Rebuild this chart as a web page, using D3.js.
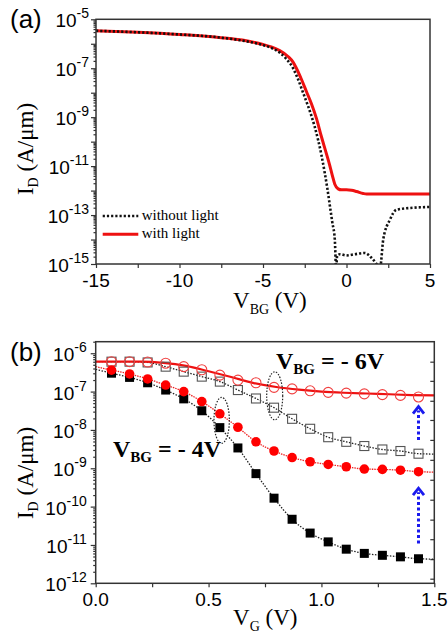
<!DOCTYPE html>
<html>
<head>
<meta charset="utf-8">
<script src="https://cdn.jsdelivr.net/npm/d3@7"></script>
<style>
	body { margin: 0; background: #fff; }
	.axis path { display: none; }
	.axis line { stroke: #333; stroke-width: 1.2; }
</style>
</head>
<body>
<div id="chart-area"></div>
<script>
// (a) I_D vs V_BG, values are log10(I_D)
const vbgDark = [-15, -12.5, -10, -7.5, -6, -5, -4.5, -4, -3.6, -3.2, -2.9, -2.6, -2.3, -2.1, -1.9, -1.7, -1.5, -1.3, -1.15, -1.0, -0.85, -0.7, -0.62, -0.56, -0.4, 0, 0.5, 1.1, 1.5, 1.8, 2.0, 2.2, 2.6, 3.0, 4, 5];
const logDark = [-5.47, -5.53, -5.62, -5.75, -5.9, -6.05, -6.17, -6.36, -6.62, -7.0, -7.45, -8.0, -8.55, -8.95, -9.4, -9.93, -10.55, -11.29, -11.9, -12.6, -13.3, -14.0, -15.2, -14.65, -14.6, -14.65, -14.6, -14.55, -14.75, -15.0, -15.2, -14.0, -13.19, -12.78, -12.7, -12.67];
const vbgLight = [-15, -12.5, -10, -7.5, -6, -5, -4.5, -4, -3.5, -3.2, -3, -2.7, -2.4, -2.1, -1.8, -1.5, -1.2, -1.0, -0.85, -0.7, -0.5, -0.3, 0, 0.3, 0.6, 1.0, 1.2, 5];
const logLight = [-5.47, -5.53, -5.62, -5.75, -5.88, -6.03, -6.13, -6.28, -6.52, -6.75, -7.0, -7.45, -7.95, -8.45, -9.05, -9.8, -10.5, -10.98, -11.38, -11.74, -11.93, -11.97, -11.97, -11.99, -12.04, -12.12, -12.14, -12.14];

// (b) I_D vs V_G, log10(I_D)
const vg = [0.07, 0.15, 0.23, 0.31, 0.39, 0.47, 0.55, 0.63, 0.71, 0.79, 0.87, 0.95, 1.03, 1.11, 1.19, 1.27, 1.35, 1.43];
const logOpenCircle = [-6.22, -6.22, -6.23, -6.26, -6.35, -6.43, -6.57, -6.70, -6.77, -6.89, -6.93, -6.98, -7.02, -7.04, -7.06, -7.08, -7.10, -7.14];
const logOpenSquare = [-6.22, -6.22, -6.24, -6.35, -6.48, -6.61, -6.74, -6.96, -7.18, -7.42, -7.71, -7.97, -8.19, -8.31, -8.42, -8.51, -8.55, -8.62];
const logFullCircle = [-6.44, -6.54, -6.67, -6.83, -7.0, -7.26, -7.58, -7.93, -8.31, -8.55, -8.72, -8.83, -8.90, -8.96, -9.02, -9.03, -9.05, -9.09];
const logFullSquare = [-6.52, -6.63, -6.77, -6.96, -7.19, -7.50, -7.94, -8.47, -9.14, -9.78, -10.33, -10.69, -10.92, -11.11, -11.22, -11.27, -11.31, -11.36];
// red solid guide line for VBG = -6V with light
const vgFit = [0, 0.1, 0.2, 0.3, 0.4, 0.5, 0.6, 0.7, 0.8, 0.9, 1.0, 1.1, 1.2, 1.3, 1.4, 1.5];
const logFit = [-6.22, -6.22, -6.22, -6.25, -6.33, -6.47, -6.62, -6.78, -6.88, -6.95, -7.0, -7.03, -7.05, -7.07, -7.09, -7.10];
// dotted lines start at V_G=0 and end at 1.5: open square, full circle, full square
const logAt0 = [-6.22, -6.35, -6.42];
const logAt15 = [-8.63, -9.10, -11.37];

// ticks
const aXTicks = [-15, -10, -5, 0, 5];
const aXMinor = [-12.5, -7.5, -2.5, 2.5];
const aYExp = [-5, -7, -9, -11, -13, -15];
const bXTicks = [0, 0.5, 1.0, 1.5];
const bXMinor = [0.25, 0.75, 1.25];
const bYExp = [-6, -7, -8, -9, -10, -11, -12];
const bRightTicks = [-6.22, -6.72, -7.24, -7.74, -8.26, -8.78, -9.30, -9.82, -10.34, -10.85, -11.37, -11.88];

const sans = '"Liberation Sans", Arial, sans-serif';
const serif = '"Liberation Serif", "Times New Roman", serif';
const pow = v => Math.pow(10, v);

var svg = d3.select("#chart-area").append("svg")
	.attr("width", 448)
	.attr("height", 635);

// helpers
function minorLog(e0, e1) {
	let out = [];
	for (let e = e0; e < e1; e++)
		for (let k = 2; k <= 9; k++) out.push(k * pow(e));
	return out;
}

function expLabels(g, y, exps, dx) {
	exps.forEach(e => {
		let t = g.append("text")
			.attr("x", -dx)
			.attr("y", y(pow(e)) + 8)
			.attr("text-anchor", "end")
			.style("font-family", sans)
			.style("font-size", "19px");
		t.append("tspan").text("10");
		t.append("tspan").attr("dy", -9).style("font-size", "14px").text(e);
	});
}

function subText(sel, main, sub, rest, big, small, shift) {
	sel.style("font-family", serif).style("font-size", big + "px");
	sel.append("tspan").text(main);
	sel.append("tspan").attr("dy", shift).style("font-size", small + "px").text(sub);
	sel.append("tspan").attr("dy", -shift).text(rest);
}

// ===================== panel (a) =====================
var marginA = {top: 19.3, left: 96};
let widthA = 334, heightA = 244.7;
var gA = svg.append("g").attr("transform", "translate(" + marginA.left + "," + marginA.top + ")");

var xA = d3.scaleLinear().domain([-15, 5]).range([0, widthA]);
var yA = d3.scaleLog().domain([1e-15, 1e-5]).range([heightA, 0]);

gA.append("clipPath").attr("id", "clipA")
	.append("rect").attr("width", widthA).attr("height", heightA);

gA.append("g").attr("class", "axis")
	.attr("transform", "translate(0," + heightA + ")")
	.call(d3.axisBottom(xA).tickValues(aXTicks.concat(aXMinor)).tickSize(4).tickFormat(""));
gA.selectAll(".xlab").data(aXTicks).enter().append("text")
	.attr("x", d => xA(d))
	.attr("y", heightA + 23)
	.attr("text-anchor", "middle")
	.style("font-family", sans)
	.style("font-size", "19px")
	.text(d => d);

gA.append("g").attr("class", "axis")
	.call(d3.axisLeft(yA).tickValues(d3.range(-15, -4).map(pow)).tickSize(5).tickFormat(""));
gA.append("g").attr("class", "axis")
	.call(d3.axisLeft(yA).tickValues(minorLog(-15, -5)).tickSize(2.5).tickFormat(""));
expLabels(gA, yA, aYExp, 7);

var lineA = d3.line()
	.x(d => xA(d[0]))
	.y(d => yA(pow(d[1])))
	.curve(d3.curveMonotoneX);

gA.append("path")
	.datum(d3.zip(vbgLight, logLight))
	.attr("clip-path", "url(#clipA)")
	.attr("fill", "none")
	.attr("stroke", "#ee1111")
	.attr("stroke-width", 3)
	.attr("d", lineA);

gA.append("path")
	.datum(d3.zip(vbgDark, logDark))
	.attr("clip-path", "url(#clipA)")
	.attr("fill", "none")
	.attr("stroke", "#111")
	.attr("stroke-width", 2.6)
	.attr("stroke-dasharray", "2.2,2")
	.attr("d", lineA);

gA.append("rect")
	.attr("width", widthA).attr("height", heightA)
	.attr("fill", "none").attr("stroke", "#333").attr("stroke-width", 1.5);

// legend
gA.append("line").attr("x1", 6.7).attr("x2", 42.3).attr("y1", 196.7).attr("y2", 196.7)
	.attr("stroke", "#111").attr("stroke-width", 2.6).attr("stroke-dasharray", "2.2,2");
gA.append("line").attr("x1", 6.7).attr("x2", 42.3).attr("y1", 215).attr("y2", 215)
	.attr("stroke", "#ee1111").attr("stroke-width", 3);
gA.append("text").attr("x", 45.7).attr("y", 200.7)
	.style("font-family", serif).style("font-size", "15px").text("without light");
gA.append("text").attr("x", 45.7).attr("y", 218.7)
	.style("font-family", serif).style("font-size", "15px").text("with light");

// titles
svg.append("text").attr("x", 10).attr("y", 28)
	.style("font-family", sans).style("font-size", "26px").text("(a)");
subText(svg.append("text").attr("transform", "translate(33,149) rotate(-90)").attr("text-anchor", "middle"),
	"I", "D", " (A/\u03bcm)", 23, 14, 5);
subText(svg.append("text").attr("x", 233).attr("y", 308),
	"V", "BG", " (V)", 23, 14, 6);

// ===================== panel (b) =====================
var marginB = {top: 341.7, left: 95.7};
let widthB = 338.6, heightB = 241.6;
var gB = svg.append("g").attr("transform", "translate(" + marginB.left + "," + marginB.top + ")");

var xB = d3.scaleLinear().domain([0, 1.5]).range([0, widthB]);
var yB = d3.scaleLog().domain([1e-12, 2e-6]).range([heightB, 0]);

gB.append("g").attr("class", "axis")
	.attr("transform", "translate(0," + heightB + ")")
	.call(d3.axisBottom(xB).tickValues(bXTicks.concat(bXMinor)).tickSize(4).tickFormat(""));
gB.selectAll(".xlab").data(bXTicks).enter().append("text")
	.attr("x", d => xB(d))
	.attr("y", heightB + 23)
	.attr("text-anchor", "middle")
	.style("font-family", sans)
	.style("font-size", "19px")
	.text(d => d.toFixed(1));

gB.append("g").attr("class", "axis")
	.call(d3.axisLeft(yB).tickValues(bYExp.map(pow)).tickSize(5).tickFormat(""));
gB.append("g").attr("class", "axis")
	.call(d3.axisLeft(yB).tickValues(minorLog(-12, -6).concat([2e-6])).tickSize(2.5).tickFormat(""));
gB.append("g").attr("class", "axis")
	.attr("transform", "translate(" + widthB + ",0)")
	.call(d3.axisLeft(yB).tickValues(bRightTicks.map(pow)).tickSize(4).tickFormat(""));
expLabels(gB, yB, bYExp, 9);

var lineB = d3.line()
	.x(d => xB(d[0]))
	.y(d => yB(pow(d[1])))
	.curve(d3.curveMonotoneX);

const withEnds = (vals, i) => [[0, logAt0[i]]].concat(d3.zip(vg, vals), [[1.5, logAt15[i]]]);

// lines
gB.append("path").datum(withEnds(logOpenSquare, 0))
	.attr("fill", "none").attr("stroke", "#222").attr("stroke-width", 1.3)
	.attr("stroke-dasharray", "1.5,1.5").attr("d", lineB);
gB.append("path").datum(withEnds(logFullSquare, 2))
	.attr("fill", "none").attr("stroke", "#222").attr("stroke-width", 1.3)
	.attr("stroke-dasharray", "1.5,1.5").attr("d", lineB);
gB.append("path").datum(withEnds(logFullCircle, 1))
	.attr("fill", "none").attr("stroke", "#ee2222").attr("stroke-width", 1.3)
	.attr("stroke-dasharray", "1.5,1").attr("d", lineB);
gB.append("path").datum(d3.zip(vgFit, logFit))
	.attr("fill", "none").attr("stroke", "#ee1111").attr("stroke-width", 2.2)
	.attr("d", lineB);

// markers
let sq = 9;
gB.selectAll(".osq").data(d3.zip(vg, logOpenSquare)).enter().append("rect")
	.attr("x", d => xB(d[0]) - sq / 2).attr("y", d => yB(pow(d[1])) - sq / 2)
	.attr("width", sq).attr("height", sq)
	.attr("fill", "none").attr("stroke", "#555").attr("stroke-width", 1.1);
gB.selectAll(".ocir").data(d3.zip(vg, logOpenCircle)).enter().append("circle")
	.attr("cx", d => xB(d[0])).attr("cy", d => yB(pow(d[1]))).attr("r", 5)
	.attr("fill", "none").attr("stroke", "#f04040").attr("stroke-width", 1.1);
gB.selectAll(".fsq").data(d3.zip(vg, logFullSquare)).enter().append("rect")
	.attr("x", d => xB(d[0]) - sq / 2).attr("y", d => yB(pow(d[1])) - sq / 2)
	.attr("width", sq).attr("height", sq)
	.attr("fill", "#000");
gB.selectAll(".fcir").data(d3.zip(vg, logFullCircle)).enter().append("circle")
	.attr("cx", d => xB(d[0])).attr("cy", d => yB(pow(d[1]))).attr("r", 4.8)
	.attr("fill", "#ff0000");

// dotted ellipses
[[0.558, -7.75, 7.7, 23], [0.793, -7.11, 8, 24]].forEach(e => {
	gB.append("ellipse")
		.attr("cx", xB(e[0])).attr("cy", yB(pow(e[1])))
		.attr("rx", e[2]).attr("ry", e[3])
		.attr("fill", "none").attr("stroke", "#222").attr("stroke-width", 1.2)
		.attr("stroke-dasharray", "1.5,1.5");
});

// blue arrows
[[-8.26, -7.39], [-10.96, -9.52]].forEach(a => {
	let ax = xB(1.43), y0 = yB(pow(a[0])), y1 = yB(pow(a[1]));
	gB.append("line").attr("x1", ax).attr("x2", ax).attr("y1", y0).attr("y2", y1 + 4)
		.attr("stroke", "#1a1aee").attr("stroke-width", 3).attr("stroke-dasharray", "3,2.5");
	gB.append("polyline")
		.attr("points", [[ax - 5.5, y1 + 7], [ax, y1], [ax + 5.5, y1 + 7]].join(" "))
		.attr("fill", "none").attr("stroke", "#1a1aee").attr("stroke-width", 2.8);
});

gB.append("rect")
	.attr("width", widthB).attr("height", heightB)
	.attr("fill", "none").attr("stroke", "#333").attr("stroke-width", 1.5);

// annotations
subText(gB.append("text").attr("x", 180.3).attr("y", 27.6).style("font-weight", "bold"),
	"V", "BG", " = - 6V", 24, 15, 5);
subText(gB.append("text").attr("x", 17.3).attr("y", 115).style("font-weight", "bold"),
	"V", "BG", " = - 4V", 24, 15, 5);

// titles
svg.append("text").attr("x", 10).attr("y", 361)
	.style("font-family", sans).style("font-size", "26px").text("(b)");
subText(svg.append("text").attr("transform", "translate(33,473) rotate(-90)").attr("text-anchor", "middle"),
	"I", "D", " (A/\u03bcm)", 23, 14, 5);
subText(svg.append("text").attr("x", 233).attr("y", 625),
	"V", "G", " (V)", 23, 14, 6);
</script>
</body>
</html>
